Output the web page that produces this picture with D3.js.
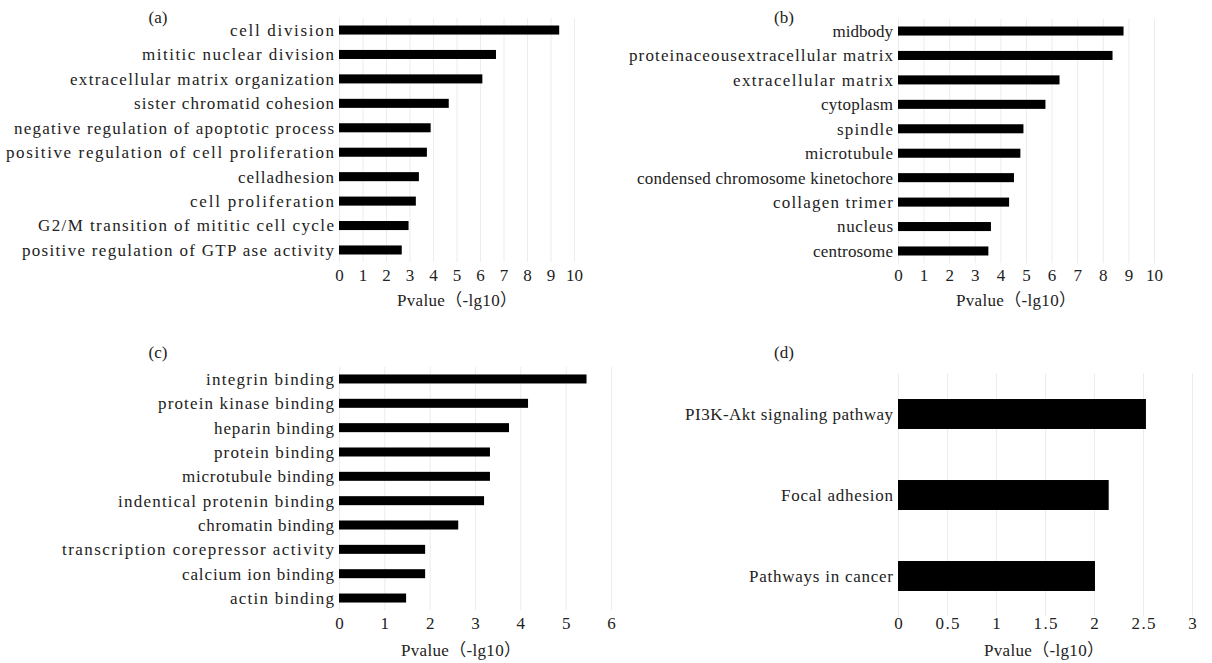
<!DOCTYPE html>
<html>
<head>
<meta charset="utf-8">
<script src="https://cdn.jsdelivr.net/npm/d3@7"></script>
<style>
  html, body { margin: 0; padding: 0; background: #fff; }
</style>
</head>
<body>
<svg id="chart" width="1212" height="663"></svg>
<script>
// ---------------- data ----------------
const catsA = ["cell division", "mititic nuclear division", "extracellular matrix organization",
  "sister chromatid cohesion", "negative regulation of apoptotic process",
  "positive regulation of cell proliferation", "celladhesion", "cell proliferation",
  "G2/M transition of mititic cell cycle", "positive regulation of GTP ase activity"];
const valsA = [9.37, 6.68, 6.10, 4.67, 3.90, 3.74, 3.40, 3.27, 2.96, 2.67];
const ticksA = [0, 1, 2, 3, 4, 5, 6, 7, 8, 9, 10];

const catsB = ["midbody", "proteinaceousextracellular matrix", "extracellular matrix", "cytoplasm",
  "spindle", "microtubule", "condensed chromosome kinetochore", "collagen trimer", "nucleus", "centrosome"];
const valsB = [8.81, 8.38, 6.31, 5.76, 4.90, 4.78, 4.53, 4.34, 3.63, 3.53];
const ticksB = [0, 1, 2, 3, 4, 5, 6, 7, 8, 9, 10];

const catsC = ["integrin binding", "protein kinase binding", "heparin binding", "protein binding",
  "microtubule binding", "indentical protenin binding", "chromatin binding",
  "transcription corepressor activity", "calcium ion binding", "actin binding"];
const valsC = [5.46, 4.17, 3.75, 3.33, 3.33, 3.20, 2.63, 1.90, 1.90, 1.48];
const ticksC = [0, 1, 2, 3, 4, 5, 6];

const catsD = ["PI3K-Akt signaling pathway", "Focal adhesion", "Pathways in cancer"];
const valsD = [2.53, 2.15, 2.01];
const ticksD = [0, 0.5, 1, 1.5, 2, 2.5, 3];

const panelLabels = ["(a)", "(b)", "(c)", "(d)"];
const axisTitle = "Pvalue（-lg10）";

const FONT = '"Liberation Serif", "DejaVu Serif", "Noto Sans CJK SC", serif';

// ---------------- layout ----------------
const layout = [
  { cats: catsA, vals: valsA, ticks: ticksA, label: panelLabels[0],
    x0: 339, x1: 574, y0: 17.8, y1: 262.2, tickY: 275, titleX: 457, titleY: 300, lx: 158, ly: 17 },
  { cats: catsB, vals: valsB, ticks: ticksB, label: panelLabels[1],
    x0: 898, x1: 1154, y0: 18.8, y1: 263.2, tickY: 275, titleX: 1016, titleY: 300, lx: 784, ly: 17 },
  { cats: catsC, vals: valsC, ticks: ticksC, label: panelLabels[2],
    x0: 339, x1: 611, y0: 366.8, y1: 610.2, tickY: 623, titleX: 461, titleY: 650, lx: 158, ly: 352 },
  { cats: catsD, vals: valsD, ticks: ticksD, label: panelLabels[3],
    x0: 898, x1: 1192, y0: 373.5, y1: 616.5, tickY: 623, titleX: 1044, titleY: 650, lx: 784, ly: 352 }
];

const svg = d3.select("#chart");
const FS = 17, CH = 8;

function fitLen(s) {
  let n = 0;
  for (const c of s) n += (c.charCodeAt(0) > 0x2000 ? 2 : 1);
  return n * CH;
}
// spread text to the monospaced width of the original, but never squeeze it
function spread(sel) {
  sel.each(function() {
    const t = d3.select(this);
    const target = fitLen(t.text());
    if (this.getComputedTextLength() < target) t.attr("textLength", target).attr("lengthAdjust", "spacing");
  });
}

layout.forEach(p => {
  const g = svg.append("g").style("font-family", FONT);
  const x = d3.scaleLinear().domain([p.ticks[0], p.ticks[p.ticks.length - 1]]).range([p.x0, p.x1]);
  const y = d3.scaleBand().domain(p.cats).range([p.y0, p.y1]).paddingInner(0.63).paddingOuter(0.315);

  // faint vertical gridlines
  const grid = d3.axisBottom(x).tickValues(p.ticks).tickSize(-(p.y1 - p.y0)).tickFormat("");
  const gg = g.append("g").attr("transform", `translate(0,${p.y1})`).call(grid);
  gg.select(".domain").remove();
  gg.selectAll("line").attr("stroke", "#ececec").attr("stroke-width", 1);

  // tick labels
  const ax = d3.axisBottom(x).tickValues(p.ticks).tickSize(0).tickFormat(d => String(d));
  const ag = g.append("g").attr("transform", `translate(0,${p.tickY - 6})`).call(ax);
  ag.select(".domain").remove();
  ag.selectAll("text")
    .style("font-family", FONT).attr("fill", "#222")
    .attr("font-size", FS).attr("dy", "0.7em").attr("y", 0)
    .call(spread);

  // bars
  g.selectAll("rect.bar").data(p.cats).enter().append("rect")
    .attr("class", "bar")
    .attr("x", x(0))
    .attr("y", d => y(d))
    .attr("height", y.bandwidth())
    .attr("width", (d, i) => x(p.vals[i]) - x(0))
    .attr("fill", "#000");

  // category labels
  g.selectAll("text.cat").data(p.cats).enter().append("text")
    .attr("class", "cat").attr("fill", "#222")
    .attr("x", x(0) - 5)
    .attr("y", d => y(d) + y.bandwidth() / 2)
    .attr("dy", "0.35em")
    .attr("text-anchor", "end")
    .attr("font-size", FS)
    .text(d => d)
    .call(spread);

  // axis title
  g.append("text").attr("fill", "#222")
    .attr("x", p.titleX).attr("y", p.titleY).attr("dy", "0.35em")
    .attr("text-anchor", "middle").attr("font-size", FS)
    .text(axisTitle)
    .call(spread);

  // panel label
  g.append("text").attr("fill", "#222")
    .attr("x", p.lx).attr("y", p.ly).attr("dy", "0.35em")
    .attr("text-anchor", "middle").attr("font-size", FS)
    .text(p.label);
});
</script>
</body>
</html>
